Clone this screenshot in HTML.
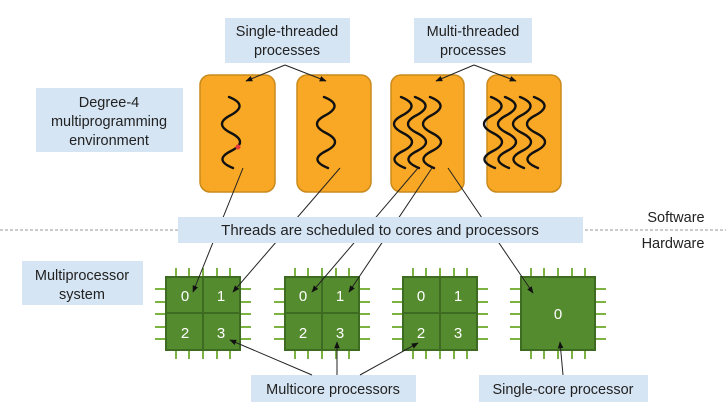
<!DOCTYPE html>
<html><head><meta charset="utf-8"><style>
body{margin:0;background:#fff;}
svg text{font-family:"Liberation Sans",sans-serif;fill:#222;}
</style></head><body>
<svg width="726" height="414" viewBox="0 0 726 414" xmlns="http://www.w3.org/2000/svg">
<defs>
<marker id="a" viewBox="0 0 10 10" refX="9" refY="5" markerWidth="7" markerHeight="7" orient="auto"><path d="M0,1 L10,5 L0,9z" fill="#111"/></marker>
<path id="w" d="M-4,0 q20,8 2,18 q-18,9 0,18 q18,9 0,18 q-18,9 2,17" fill="none" stroke="#111" stroke-width="2.4" stroke-linecap="round"/>
<g id="chip">
 <g stroke="#7cb342" stroke-width="2">
  <path d="M10,-9v9M23,-9v9M37,-9v9M51,-9v9M64,-9v9M10,73v9M23,73v9M37,73v9M51,73v9M64,73v9"/>
  <path d="M-11,12h11M-11,25h11M-11,37h11M-11,50h11M-11,62h11M74,12h11M74,25h11M74,37h11M74,50h11M74,62h11"/>
 </g>
 <rect x="0" y="0" width="74" height="73" fill="#558b2f" stroke="#3e6b22" stroke-width="2"/>
</g>
</defs>
<line x1="0" y1="230" x2="726" y2="230" stroke="#999" stroke-dasharray="3,2"/>
<g fill="#d6e5f4">
<rect x="225" y="18" width="125" height="45"/>
<rect x="414" y="18" width="118" height="45"/>
<rect x="36" y="88" width="147" height="64"/>
<rect x="22" y="261" width="121" height="44"/>
<rect x="251" y="375" width="165" height="27"/>
<rect x="479" y="375" width="169" height="27"/>
</g>
<g font-size="14.5" text-anchor="middle">
<text x="287" y="36">Single-threaded</text><text x="287" y="55">processes</text>
<text x="473" y="36">Multi-threaded</text><text x="473" y="55">processes</text>
<text x="109" y="107">Degree-4</text><text x="109" y="126">multiprogramming</text><text x="109" y="145">environment</text>
<text x="82" y="280">Multiprocessor</text><text x="82" y="299">system</text>
<text x="333" y="394">Multicore processors</text>
<text x="563" y="394">Single-core processor</text>
<text x="676" y="222">Software</text><text x="673" y="248">Hardware</text>
</g>
<g fill="#f9a825" stroke="#c98a1c" stroke-width="1.5">
<rect x="200" y="75" width="75" height="117" rx="10"/>
<rect x="297" y="75" width="74" height="117" rx="10"/>
<rect x="391" y="75" width="73" height="117" rx="10"/>
<rect x="487" y="75" width="74" height="117" rx="10"/>
</g>
<use href="#w" x="233" y="97"/>
<use href="#w" x="328" y="97"/>
<use href="#w" x="405" y="97"/><use href="#w" x="419" y="97"/><use href="#w" x="434" y="97"/>
<use href="#w" x="495" y="97"/><use href="#w" x="509" y="97"/><use href="#w" x="524" y="97"/><use href="#w" x="538" y="97"/>
<circle cx="238" cy="147" r="2.5" fill="#e53935"/>
<use href="#chip" x="166" y="277"/>
<use href="#chip" x="285" y="277"/>
<use href="#chip" x="403" y="277"/>
<use href="#chip" x="521" y="277"/>
<g stroke="#3e6b22" stroke-width="2">
<path d="M203,277v73M166,313h74M322,277v73M285,313h74M440,277v73M403,313h74"/>
</g>
<g font-size="15" text-anchor="middle">
<text x="185" y="301" style="fill:#fff">0</text><text x="221" y="301" style="fill:#fff">1</text><text x="185" y="338" style="fill:#fff">2</text><text x="221" y="338" style="fill:#fff">3</text>
<text x="303" y="301" style="fill:#fff">0</text><text x="340" y="301" style="fill:#fff">1</text><text x="303" y="338" style="fill:#fff">2</text><text x="340" y="338" style="fill:#fff">3</text>
<text x="421" y="301" style="fill:#fff">0</text><text x="458" y="301" style="fill:#fff">1</text><text x="421" y="338" style="fill:#fff">2</text><text x="458" y="338" style="fill:#fff">3</text>
<text x="558" y="319" style="fill:#fff">0</text>
</g>
<g stroke="#222" stroke-width="1" fill="none" marker-end="url(#a)">
<path d="M285,65L246,81"/><path d="M285,65L326,81"/>
<path d="M474,65L436,81"/><path d="M474,65L516,81"/>
<path d="M243,168L193,292"/><path d="M340,168L233,292"/>
<path d="M418,168L312,292"/><path d="M432,168L349,292"/><path d="M448,168L533,293"/>
<path d="M312,375L230,340"/><path d="M337,375L337,342"/><path d="M360,375L418,343"/>
<path d="M563,375L560,342"/>
</g>
<rect x="178" y="217" width="405" height="26" fill="#d6e5f4"/>
<text x="380" y="235" font-size="15" text-anchor="middle">Threads are scheduled to cores and processors</text>
</svg>
</body></html>
